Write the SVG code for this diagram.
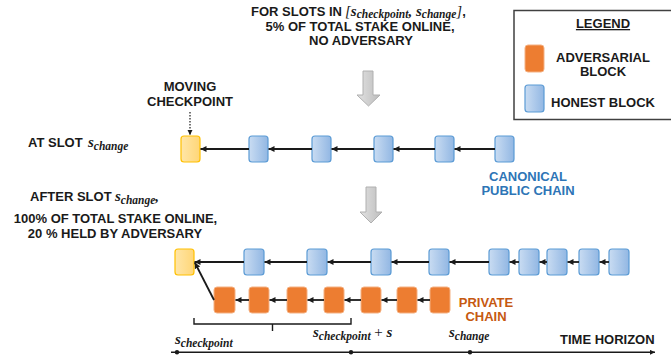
<svg xmlns="http://www.w3.org/2000/svg" width="671" height="356" viewBox="0 0 671 356">
<style>
.t{font-family:"Liberation Sans",Arial,sans-serif;font-weight:bold;font-size:13px;fill:#1a1a1a}
.c{text-anchor:middle}
.m{font-family:"Liberation Serif","Times New Roman",serif;font-style:italic;font-weight:bold;font-size:15px;fill:#1a1a1a}
.sub{font-size:11.5px}
.blue{fill:url(#gb);stroke:#5b9bd5;stroke-width:1.2}
.yel{fill:url(#gy);stroke:#ffc000;stroke-width:1.2}
.org{fill:#ed7d31;stroke:#f4b183;stroke-width:1}
.lk{stroke:#1a1a1a;stroke-width:1.8;fill:none;marker-end:url(#ah)}
.garr{fill:url(#gg);stroke:#b0b0b0;stroke-width:1}
</style>
<defs>
<linearGradient id="gb" x1="0" y1="0" x2="1" y2="0"><stop offset="0" stop-color="#c9dcf2"/><stop offset="1" stop-color="#92b7e3"/></linearGradient>
<linearGradient id="gy" x1="0" y1="0" x2="1" y2="0"><stop offset="0" stop-color="#ffe6a8"/><stop offset="1" stop-color="#ffd677"/></linearGradient>
<linearGradient id="gg" x1="0" y1="0" x2="1" y2="0"><stop offset="0" stop-color="#e2e2e2"/><stop offset="1" stop-color="#bdbdbd"/></linearGradient>
<marker id="ah" markerUnits="userSpaceOnUse" markerWidth="7" markerHeight="6" refX="6" refY="3" orient="auto"><path d="M0,0 L6,3 L0,6 z" fill="#1a1a1a"/></marker>
<marker id="ahs" markerUnits="userSpaceOnUse" markerWidth="6" markerHeight="6" refX="5" refY="2.5" orient="auto"><path d="M0,0 L5,2.5 L0,5 z" fill="#1a1a1a"/></marker>
</defs>
<rect width="671" height="356" fill="#ffffff"/>

<g id="title">
<text class="t" x="251" y="15.5">FOR SLOTS IN <tspan x="345" class="m" style="font-weight:normal">[</tspan><tspan class="m">s</tspan><tspan class="m sub" dy="2">checkpoint</tspan><tspan class="m" dy="-2">, s</tspan><tspan class="m sub" dy="2">change</tspan><tspan class="m" dy="-2" style="font-weight:normal">]</tspan>,</text>
<text class="t c" x="360" y="30.5">5% OF TOTAL STAKE ONLINE,</text>
<text class="t c" x="361" y="44.5">NO ADVERSARY</text>
</g>

<g id="legend">
<rect x="514" y="10.5" width="170" height="109" fill="#ffffff" stroke="#404040" stroke-width="1.5"/>
<text class="t c" x="603" y="28" text-decoration="underline">LEGEND</text>
<rect class="org" x="525" y="45" width="19" height="27" rx="3"/>
<text class="t c" x="603" y="62">ADVERSARIAL</text>
<text class="t c" x="603" y="76">BLOCK</text>
<rect class="blue" x="525" y="85" width="19" height="27" rx="3"/>
<text class="t" x="551" y="107">HONEST BLOCK</text>
</g>

<g id="arrow1"><path class="garr" d="M363,71 H373 V95 H380 L368.5,106 L357,95 H363 Z"/></g>
<g id="arrow2"><path class="garr" d="M366,187 H376 V212 H382 L371,223 L360,212 H366 Z"/></g>

<g id="moving-checkpoint-label">
<text class="t c" x="190" y="91">MOVING</text>
<text class="t c" x="190" y="106">CHECKPOINT</text>
</g>

<g id="at-slot-label">
<text class="t" x="28" y="147">AT SLOT <tspan x="88" class="m">s</tspan><tspan class="m sub" dy="3">change</tspan></text>
</g>

<g id="row1">
<rect id="r1-cp" class="yel" x="181" y="136" width="19" height="26" rx="3"/>
<rect id="r1-b1" class="blue" x="249" y="136" width="19" height="26" rx="3"/>
<rect id="r1-b2" class="blue" x="312" y="136" width="19" height="26" rx="3"/>
<rect id="r1-b3" class="blue" x="374" y="136" width="19" height="26" rx="3"/>
<rect id="r1-b4" class="blue" x="435" y="136" width="19" height="26" rx="3"/>
<rect id="r1-b5" class="blue" x="495" y="136" width="19" height="26" rx="3"/>
</g>

<g id="canonical-label">
<text class="t c" x="528" y="181" style="fill:#2e75b6">CANONICAL</text>
<text class="t c" x="528" y="195" style="fill:#2e75b6">PUBLIC CHAIN</text>
</g>

<g id="after-slot-label">
<text class="t" x="30" y="201">AFTER SLOT <tspan x="115" class="m">s</tspan><tspan class="m sub" dy="3">change</tspan><tspan class="m" dy="-3">,</tspan></text>
<text class="t c" x="115.5" y="223">100% OF TOTAL STAKE ONLINE,</text>
<text class="t c" x="115" y="238">20 % HELD BY ADVERSARY</text>
</g>

<g id="row2-public">
<rect id="r2-cp" class="yel" x="175" y="249" width="19" height="26" rx="3"/>
<rect id="r2-b1" class="blue" x="244" y="249" width="20" height="26" rx="3"/>
<rect id="r2-b2" class="blue" x="307" y="249" width="20" height="26" rx="3"/>
<rect id="r2-b3" class="blue" x="371" y="249" width="20" height="26" rx="3"/>
<rect id="r2-b4" class="blue" x="429" y="249" width="20" height="26" rx="3"/>
<rect id="r2-b5" class="blue" x="489" y="249" width="20" height="26" rx="3"/>
<rect id="r2-b6" class="blue" x="519" y="249" width="20" height="26" rx="3"/>
<rect id="r2-b7" class="blue" x="547" y="249" width="20" height="26" rx="3"/>
<rect id="r2-b8" class="blue" x="579" y="249" width="20" height="26" rx="3"/>
<rect id="r2-b9" class="blue" x="609" y="249" width="20" height="26" rx="3"/>
</g>

<g id="row2-private">
<rect id="p1" class="org" x="214" y="287" width="21" height="26" rx="3"/>
<rect id="p2" class="org" x="249" y="287" width="20" height="26" rx="3"/>
<rect id="p3" class="org" x="287" y="287" width="20" height="26" rx="3"/>
<rect id="p4" class="org" x="324" y="287" width="20" height="26" rx="3"/>
<rect id="p5" class="org" x="361" y="287" width="20" height="26" rx="3"/>
<rect id="p6" class="org" x="397" y="287" width="20" height="26" rx="3"/>
<rect id="p7" class="org" x="430" y="287" width="20" height="26" rx="3"/>
</g>

<g id="private-label">
<text class="t c" x="486" y="307" style="fill:#c65911">PRIVATE</text>
<text class="t c" x="486" y="321" style="fill:#c65911">CHAIN</text>
</g>

<g id="connectors">
<line x1="190" y1="112" x2="190" y2="135" stroke="#1a1a1a" stroke-width="1.2" stroke-dasharray="1.5,1.5" marker-end="url(#ahs)"/>
<line class="lk" x1="249" y1="149" x2="200.5" y2="149"/>
<line class="lk" x1="312" y1="149" x2="268.5" y2="149"/>
<line class="lk" x1="374" y1="149" x2="331.5" y2="149"/>
<line class="lk" x1="435" y1="149" x2="393.5" y2="149"/>
<line class="lk" x1="495" y1="149" x2="454.5" y2="149"/>

<line class="lk" x1="244" y1="262" x2="194.5" y2="262"/>
<line class="lk" x1="307" y1="262" x2="264.5" y2="262"/>
<line class="lk" x1="371" y1="262" x2="327.5" y2="262"/>
<line class="lk" x1="429" y1="262" x2="391.5" y2="262"/>
<line class="lk" x1="489" y1="262" x2="449.5" y2="262"/>
<line class="lk" x1="519" y1="262" x2="509.5" y2="262"/>
<line class="lk" x1="547" y1="262" x2="539.5" y2="262"/>
<line class="lk" x1="579" y1="262" x2="567.5" y2="262"/>
<line class="lk" x1="609" y1="262" x2="599.5" y2="262"/>

<line class="lk" x1="214" y1="300" x2="194.8" y2="262.5"/>
<line class="lk" x1="249" y1="300" x2="235.5" y2="300"/>
<line class="lk" x1="287" y1="300" x2="269.5" y2="300"/>
<line class="lk" x1="324" y1="300" x2="307.5" y2="300"/>
<line class="lk" x1="361" y1="300" x2="344.5" y2="300"/>
<line class="lk" x1="397" y1="300" x2="381.5" y2="300"/>
<line class="lk" x1="430" y1="300" x2="417.5" y2="300"/>
</g>

<g id="timeline">
<path d="M194,318 V324 H351 V318 M272.5,324 V331" fill="none" stroke="#1a1a1a" stroke-width="1.4"/>
<line x1="171" y1="352.3" x2="655" y2="352.3" stroke="#1a1a1a" stroke-width="1.4" marker-end="url(#ahs)"/>
<circle cx="177" cy="352.3" r="2.2" fill="#1a1a1a"/>
<circle cx="351" cy="352.3" r="2.2" fill="#1a1a1a"/>
<circle cx="470" cy="352.3" r="2.2" fill="#1a1a1a"/>
<text class="m" x="175" y="344">s<tspan class="sub" dy="3">checkpoint</tspan></text>
<text class="m" x="313" y="337">s<tspan class="sub" dy="3">checkpoint</tspan><tspan dy="-3" font-weight="normal" font-style="normal"> + </tspan>s</text>
<text class="m" x="449" y="337">s<tspan class="sub" dy="3">change</tspan></text>
<text class="t" x="560" y="344">TIME HORIZON</text>
</g>
</svg>
